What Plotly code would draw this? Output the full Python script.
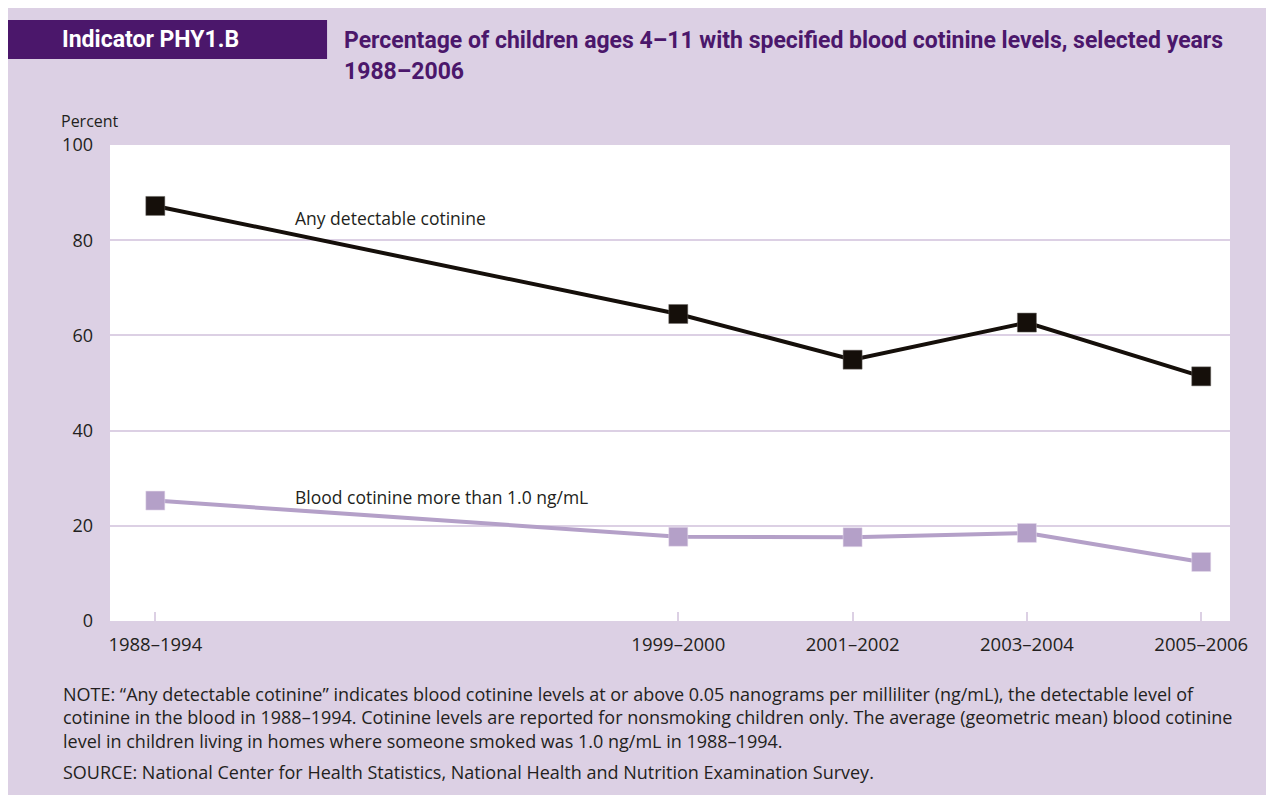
import plotly.graph_objects as go

# ---- data ----
periods = ["1988–1994", "1999–2000", "2001–2002", "2003–2004", "2005–2006"]
period_end_year = [1994, 2000, 2002, 2004, 2006]
any_detectable = [87.2, 64.5, 54.9, 62.7, 51.4]
above_1ng = [25.3, 17.7, 17.6, 18.5, 12.4]
y_ticks = [0, 20, 40, 60, 80, 100]

# ---- styles ----
BG = "#dcd0e4"
DARK = "#4b176b"
LIGHT_SERIES = "#b4a0c8"
TEXT = "#231f20"
FONT = "Open Sans"

fig = go.Figure()

fig.add_trace(go.Scatter(
    x=period_end_year, y=any_detectable, mode="lines+markers",
    line=dict(color="#150f0a", width=4),
    marker=dict(symbol="square", size=19, color="#150f0a",
                line=dict(color="#6e6a66", width=0.5)),
    name="Any detectable cotinine", showlegend=False, hoverinfo="x+y"))

fig.add_trace(go.Scatter(
    x=period_end_year, y=above_1ng, mode="lines+markers",
    line=dict(color=LIGHT_SERIES, width=4),
    marker=dict(symbol="square", size=19, color=LIGHT_SERIES,
                line=dict(color="#e6dcec", width=0.5)),
    name="Blood cotinine more than 1.0 ng/mL", showlegend=False, hoverinfo="x+y"))

# series labels
fig.add_annotation(x=1995.58, y=84.66, text="Any detectable cotinine",
                   xanchor="left", yanchor="middle", showarrow=False,
                   font=dict(family=FONT, size=17.5, color=TEXT))
fig.add_annotation(x=1995.58, y=26.05, text="Blood cotinine more than 1.0 ng/mL",
                   xanchor="left", yanchor="middle", showarrow=False,
                   font=dict(family=FONT, size=17.5, color=TEXT))

# title bar
fig.add_shape(type="rect", xref="paper", yref="paper", layer="below",
              x0=-0.0911, x1=0.1938, y0=1.1807, y1=1.2626,
              fillcolor=DARK, line=dict(width=0))

fig.add_annotation(xref="paper", yref="paper", x=-0.0447, y=1.2206,
                   text="<b>Indicator PHY1.B</b>", xanchor="left", yanchor="middle",
                   showarrow=False, font=dict(family="Roboto", size=23, color="white"))
fig.add_annotation(xref="paper", yref="paper", x=0.2071, y=1.2185,
                   text="<b>Percentage of children ages 4–11 with specified blood cotinine levels, selected years</b>",
                   xanchor="left", yanchor="middle", showarrow=False,
                   font=dict(family="Roboto", size=23, color=DARK))
fig.add_annotation(xref="paper", yref="paper", x=0.2071, y=1.1534,
                   text="<b>1988–2006</b>",
                   xanchor="left", yanchor="middle", showarrow=False,
                   font=dict(family="Roboto", size=23, color=DARK))

fig.add_annotation(xref="paper", yref="paper", x=-0.0455, y=1.0504,
                   text="Percent", xanchor="left", yanchor="middle", showarrow=False,
                   font=dict(family=FONT, size=16, color=TEXT))

note = ("NOTE: “Any detectable cotinine” indicates blood cotinine levels at or above 0.05 nanograms per milliliter (ng/mL), the detectable level of<br>"
        "cotinine in the blood in 1988–1994. Cotinine levels are reported for nonsmoking children only. The average (geometric mean) blood cotinine<br>"
        "level in children living in homes where someone smoked was 1.0 ng/mL in 1988–1994.")
fig.add_annotation(xref="paper", yref="paper", x=-0.0438, y=-0.123,
                   text=note, xanchor="left", yanchor="top", align="left",
                   showarrow=False, font=dict(family=FONT, size=18, color=TEXT))
fig.add_annotation(xref="paper", yref="paper", x=-0.0438, y=-0.3172,
                   text="SOURCE: National Center for Health Statistics, National Health and Nutrition Examination Survey.",
                   xanchor="left", yanchor="middle", align="left",
                   showarrow=False, font=dict(family=FONT, size=18, color=TEXT))

fig.update_layout(
    width=1274, height=795,
    margin=dict(l=102, r=52, t=137, b=182),
    paper_bgcolor=BG, plot_bgcolor="white",
    showlegend=False,
    xaxis=dict(range=[1993.48, 2006.33], tickvals=period_end_year, ticktext=periods,
               showgrid=False, zeroline=False, showline=False,
               ticks="inside", ticklen=9, tickwidth=2, tickcolor=BG,
               ticklabelstandoff=10,
               tickfont=dict(family=FONT, size=18.5, color=TEXT), fixedrange=True),
    yaxis=dict(range=[0, 100], tickvals=y_ticks,
               showgrid=True, gridcolor=BG, gridwidth=2, zeroline=False, showline=False,
               ticks="", ticklabelstandoff=16,
               tickfont=dict(family=FONT, size=18, color=TEXT), fixedrange=True),
)

fig.write_html("out.html")
